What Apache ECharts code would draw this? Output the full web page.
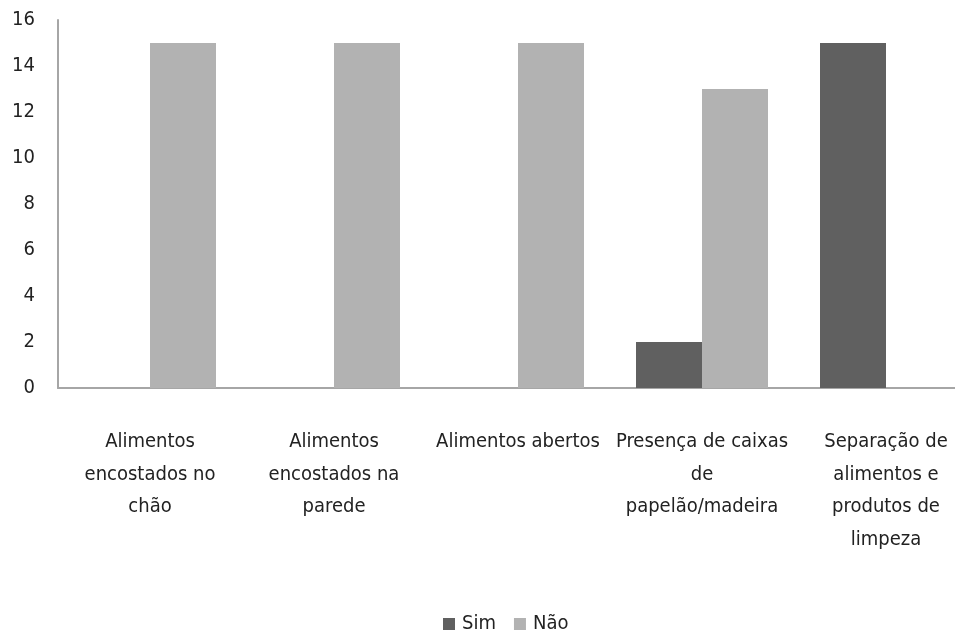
<!DOCTYPE html>
<html><head><meta charset="utf-8">
<script src="https://cdn.jsdelivr.net/npm/echarts@6/dist/echarts.min.js"></script>
<style>html,body{margin:0;padding:0;background:#fff}#c{width:955px;height:632px}</style>
</head><body><div id="c"></div>
<script>
const categories = ["Alimentos\nencostados no\nchão","Alimentos\nencostados na\nparede","Alimentos abertos","Presença de caixas\nde\npapelão/madeira","Separação de\nalimentos e\nprodutos de\nlimpeza"];
const sim = [0, 0, 0, 2, 15];
const nao = [15, 15, 15, 13, 0];
const yTicks = [0, 2, 4, 6, 8, 10, 12, 14, 16];
const FONT = "'Liberation Sans Narrow','DejaVu Sans Condensed','Roboto',sans-serif";
const chart = echarts.init(document.getElementById('c'), null, {renderer:'canvas'});
chart.setOption({
  animation:false,
  textStyle:{fontFamily:FONT},
  grid:{left:58, width:920, top:20, height:368, containLabel:false, outerBoundsMode:'none'},
  legend:{top:609, left:438, itemWidth:12, itemHeight:12, itemGap:18, icon:'rect',
    textStyle:{fontFamily:FONT, fontSize:20, color:'#222', padding:[0,0,0,2]}, data:['Sim','Não']},
  xAxis:{type:'category', data:categories,
    axisLine:{lineStyle:{color:'#a6a6a6', width:2}}, axisTick:{show:false},
    axisLabel:{interval:0, margin:38, fontFamily:FONT, fontSize:20, color:'#222', lineHeight:32.5}},
  yAxis:{type:'value', min:yTicks[0], max:yTicks[yTicks.length-1], interval:2,
    axisLine:{show:true, lineStyle:{color:'#a6a6a6', width:2}}, axisTick:{show:false},
    splitLine:{show:false},
    axisLabel:{fontFamily:FONT, fontSize:20, color:'#222', margin:23}},
  series:[
    {name:'Sim', type:'bar', data:sim, barWidth:66, barGap:'0%', itemStyle:{color:'#606060'}},
    {name:'Não', type:'bar', data:nao, barWidth:66, barGap:'0%', itemStyle:{color:'#b2b2b2'}}
  ]
});
</script></body></html>
